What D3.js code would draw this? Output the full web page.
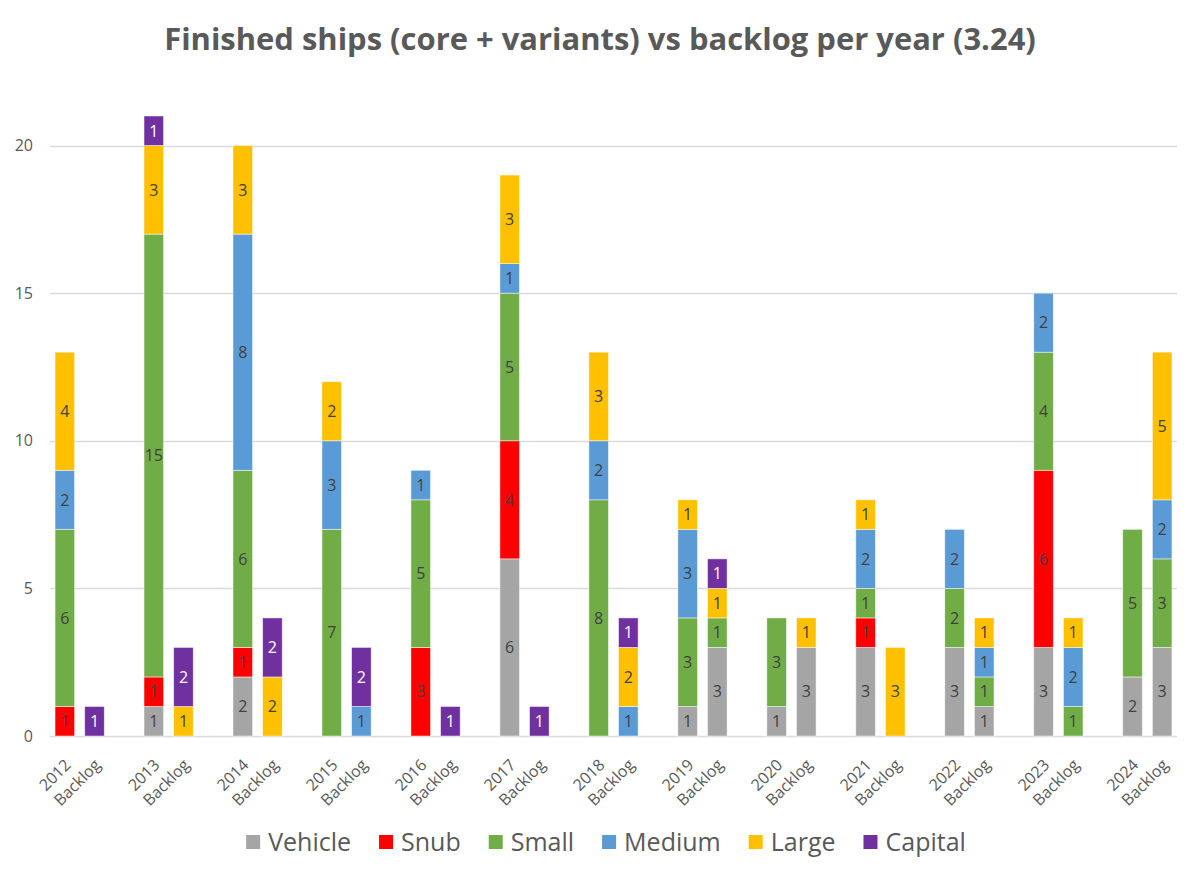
<!DOCTYPE html>
<html>
<head>
<meta charset="utf-8">
<script src="https://cdn.jsdelivr.net/npm/d3@7"></script>
<style>
  body { margin: 0; background: #fff; }
  #dataViz { width: 1200px; height: 878px; }
  text { font-family: "Open Sans", "Noto Sans", sans-serif; }
</style>
</head>
<body>
<div id="dataViz"></div>
<script>
// Years, each one has a finished bar and a backlog bar
const years = ["2012", "2013", "2014", "2015", "2016", "2017", "2018", "2019", "2020", "2021", "2022", "2023", "2024"];

// One value per bar: year, backlog, year, backlog ...
const vehicle = [0, 0, 1, 0, 2, 0, 0, 0, 0, 0, 6, 0, 0, 0, 1, 3, 1, 3, 3, 0, 3, 1, 3, 0, 2, 3];
const snub    = [1, 0, 1, 0, 1, 0, 0, 0, 3, 0, 4, 0, 0, 0, 0, 0, 0, 0, 1, 0, 0, 0, 6, 0, 0, 0];
const small   = [6, 0, 15, 0, 6, 0, 7, 0, 5, 0, 5, 0, 8, 0, 3, 1, 3, 0, 1, 0, 2, 1, 4, 1, 5, 3];
const medium  = [2, 0, 0, 0, 8, 0, 3, 1, 1, 0, 1, 0, 2, 1, 3, 0, 0, 0, 2, 0, 2, 1, 2, 2, 0, 2];
const large   = [4, 0, 3, 1, 3, 2, 2, 0, 0, 0, 3, 0, 3, 2, 1, 1, 0, 1, 1, 3, 0, 1, 0, 1, 0, 5];
const capital = [0, 1, 1, 2, 0, 2, 0, 2, 0, 1, 0, 1, 0, 1, 0, 1, 0, 0, 0, 0, 0, 0, 0, 0, 0, 0];

const seriesNames = ["Vehicle", "Snub", "Small", "Medium", "Large", "Capital"];
const yTicks = [0, 5, 10, 15, 20];

const width = 1200;
const height = 878;
const margin = { top: 116, right: 23, bottom: 142, left: 50 };

const colours = {
  "Vehicle": "#A5A5A5",
  "Snub": "#FF0000",
  "Small": "#70AD47",
  "Medium": "#5B9BD5",
  "Large": "#FFC000",
  "Capital": "#7030A0",
  "text": "#595959",
  "label": "#404040",
  "grid": "#D9D9D9"
};

// Slots: year, backlog, empty gap (no gap after the last year)
const slots = [];
years.forEach((y, i) => {
  slots.push({ key: y, label: y, idx: i * 2 });
  slots.push({ key: y + "|b", label: "Backlog", idx: i * 2 + 1 });
  if (i < years.length - 1) slots.push({ key: y + "|gap", label: "", idx: -1 });
});

const bars = slots.filter(s => s.idx >= 0).map(s => ({
  key: s.key,
  Vehicle: vehicle[s.idx],
  Snub: snub[s.idx],
  Small: small[s.idx],
  Medium: medium[s.idx],
  Large: large[s.idx],
  Capital: capital[s.idx]
}));

const svg = d3.select("#dataViz").append("svg")
  .attr("width", width)
  .attr("height", height)
  .attr("viewBox", [0, 0, width, height]);

const xScale = d3.scaleBand()
  .domain(slots.map(s => s.key))
  .range([margin.left, width - margin.right])
  .paddingInner(0.34)
  .paddingOuter(0.17);

const yScale = d3.scaleLinear()
  .domain([0, 21])
  .range([height - margin.bottom, margin.top]);

// Gridlines
svg.append("g")
  .selectAll("line")
  .data(yTicks)
  .join("line")
  .attr("x1", margin.left)
  .attr("x2", width - margin.right)
  .attr("y1", d => Math.round(yScale(d)) + 0.5)
  .attr("y2", d => Math.round(yScale(d)) + 0.5)
  .attr("stroke", colours.grid)
  .attr("stroke-width", 1.5);

// Y axis labels
const yAxis = d3.axisLeft(yScale).tickValues(yTicks).tickSize(0).tickPadding(17);
svg.append("g")
  .attr("transform", `translate(${margin.left}, 0)`)
  .call(yAxis)
  .call(g => g.select(".domain").remove())
  .selectAll("text")
  .style("font-size", "16px")
  .style("font-family", "'Open Sans', sans-serif")
  .attr("fill", colours.text);

// Stacked bars
const stack = d3.stack().keys(seriesNames);
const stacked = stack(bars);

const layers = svg.append("g")
  .selectAll("g")
  .data(stacked)
  .join("g")
  .attr("fill", d => colours[d.key]);

layers.selectAll("rect")
  .data(d => d.filter(s => s[1] - s[0] > 0))
  .join("rect")
  .attr("x", d => xScale(d.data.key))
  .attr("y", d => yScale(d[1]))
  .attr("width", xScale.bandwidth())
  .attr("height", d => yScale(d[0]) - yScale(d[1]))
  .attr("stroke", "#ffffff")
  .attr("stroke-opacity", 0.6)
  .attr("stroke-width", 0.8);

// Data labels
layers.each(function (layer) {
  d3.select(this).selectAll("text")
    .data(layer.filter(s => s[1] - s[0] > 0))
    .join("text")
    .attr("x", d => xScale(d.data.key) + xScale.bandwidth() / 2)
    .attr("y", d => yScale((d[0] + d[1]) / 2))
    .attr("dy", "0.36em")
    .attr("text-anchor", "middle")
    .style("font-size", "16px")
    .attr("fill", layer.key === "Capital" ? "#ffffff" : colours.label)
    .text(d => d[1] - d[0]);
});

// X axis labels, rotated
svg.append("g")
  .selectAll("text")
  .data(slots.filter(s => s.label !== ""))
  .join("text")
  .attr("transform", d => `translate(${xScale(d.key) + xScale.bandwidth() / 2 + 3}, ${height - margin.bottom + 26}) rotate(-45)`)
  .attr("text-anchor", "end")
  .attr("dy", "0.35em")
  .style("font-size", "16px")
  .attr("fill", colours.text)
  .text(d => d.label);

// Title, sized to the width it has in the original
const title = svg.append("text")
  .attr("x", 600)
  .attr("y", 50)
  .attr("text-anchor", "middle")
  .style("font-size", "26px")
  .style("font-weight", "bold")
  .attr("fill", colours.text)
  .text("Finished ships (core + variants) vs backlog per year (3.24)");
const tw = title.node().getComputedTextLength();
title.style("font-size", (26 * 872 / tw).toFixed(2) + "px");

// Legend
const legend = svg.append("g").attr("transform", "translate(0, 842)");
const items = legend.selectAll("g")
  .data(seriesNames)
  .join("g");

items.append("rect")
  .attr("width", 14)
  .attr("height", 14)
  .attr("y", -7)
  .attr("fill", d => colours[d]);

items.append("text")
  .attr("x", 22)
  .attr("y", 8.5)
  .style("font-size", "25px")
  .attr("fill", colours.text)
  .text(d => d);

// Position the items side by side, centred
let offset = 0;
const positions = [];
items.each(function () {
  const w = this.getBBox().width;
  positions.push(offset);
  offset += w + 28;
});
const start = 606 - (offset - 28) / 2;
items.attr("transform", (d, i) => `translate(${start + positions[i]}, 0)`);
</script>
</body>
</html>
